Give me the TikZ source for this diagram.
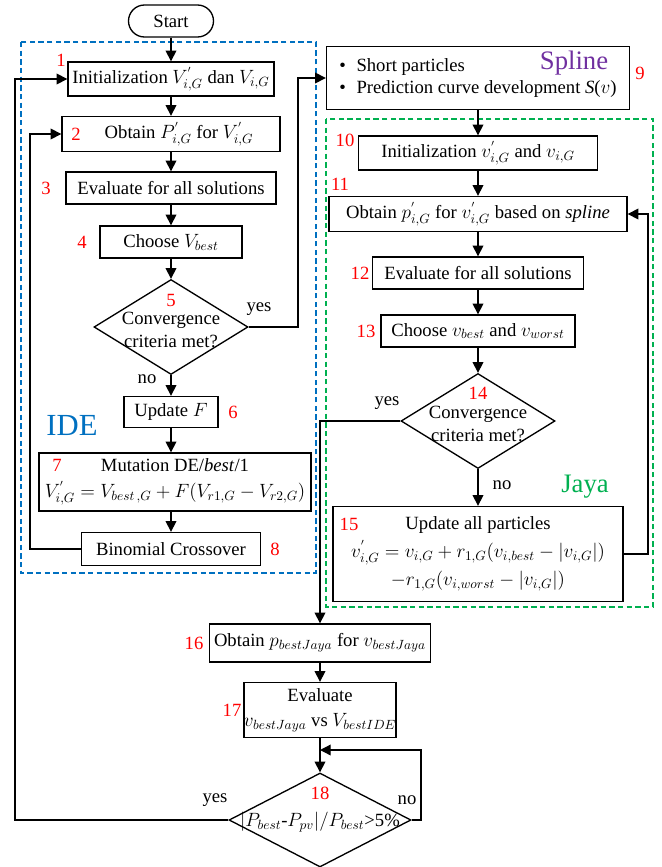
\documentclass[tikz,border=0pt]{standalone}
\usepackage{fontspec}
\setmainfont{Liberation Serif}
\usetikzlibrary{arrows.meta,shapes.geometric}
\definecolor{ideblue}{RGB}{0,112,192}
\definecolor{jayagreen}{RGB}{0,176,80}
\definecolor{splinepurple}{RGB}{112,48,160}
\definecolor{numred}{RGB}{255,0,0}
\begin{document}
\begin{tikzpicture}[x=0.75pt,y=-0.75pt,
  every node/.style={font=\fontsize{14}{16}\selectfont},
  box/.style={draw,line width=1pt,inner sep=0pt,align=center},
  wh/.style 2 args={minimum width=#1*0.75pt,minimum height=#2*0.75pt},
  dec/.style={draw,diamond,line width=1pt,inner sep=0pt},
  num/.style={text=numred,inner sep=0pt},
  conn/.style={line width=1pt,-{Triangle[length=8pt,width=8pt]}},
  lbl/.style={inner sep=0pt},
  dashbox/.style={line width=0.9pt,dash pattern=on 4pt off 2.5pt},
  ]
\useasboundingbox (0,0) rectangle (661,867);
% frames
\draw[dashbox,ideblue] (21,42) rectangle (316,573);
\draw[dashbox,jayagreen] (326,119) rectangle (653,607);
% IDE column
\node[box,wh={85}{32},rounded corners=12pt] (start) at (171,21) {Start};
\node[box,wh={206}{34}] (b1) at (171,79) {Initialization $V^{'}_{i,G}$ dan $V_{i,G}$};
\node[box,wh={218}{35}] (b2) at (171,134) {\hspace*{12pt}Obtain $P^{'}_{i,G}$ for $V^{'}_{i,G}$};
\node[box,wh={210}{32}] (b3) at (171,188) {Evaluate for all solutions};
\node[box,wh={142}{32}] (b4) at (171,242) {Choose $V_{best}$};
\node[dec,wh={154}{95}] (d5) at (171,327) {};
\node[lbl,align=center,font=\fontsize{14}{17}\selectfont] (t5) at (171,330) {Convergence\\criteria met?};
\node[box,wh={94}{31}] (b6) at (171,412) {Update $F$};
\node[box,wh={272}{58},font=\fontsize{14}{19.5}\selectfont] (b7) at (175,482)
  {Mutation DE/\textit{best}/1\\ $V^{'}_{i,G}=V_{best\,,G}+F\bigl(V_{r1,G}-V_{r2,G}\bigr)$};
\node[box,wh={179}{33}] (b8) at (171,549) {Binomial Crossover};
% Spline / Jaya column
\node[box,wh={303}{63},align=left,font=\fontsize{14}{16.5}\selectfont] (b9) at (478,78)
  {\textbullet\hspace{8pt}Short particles\\ \textbullet\hspace{8pt}Prediction curve development \textit{S}($v$)};
\node[box,wh={239}{34}] (b10) at (478,153) {Initialization $v^{'}_{i,G}$ and $v_{i,G}$};
\node[box,wh={298}{35}] (b11) at (478,214) {Obtain $p^{'}_{i,G}$ for $v^{'}_{i,G}$ based on \textit{spline}};
\node[box,wh={211}{32}] (b12) at (478,273) {Evaluate for all solutions};
\node[box,wh={194}{32}] (b13) at (478,331) {Choose $v_{best}$ and $v_{worst}$};
\node[dec,wh={154}{95}] (d14) at (478,421) {};
\node[lbl,align=center,font=\fontsize{14}{17}\selectfont] (t14) at (478,424) {Convergence\\criteria met?};
\node[box,wh={290}{95},font=\fontsize{14}{21}\selectfont] (b15) at (478,554)
  {Update all particles\\ $v^{'}_{i,G}=v_{i,G}+r_{1,G}\bigl(v_{i,best}-\bigl|v_{i,G}\bigr|\bigr)$\\ $-r_{1,G}\bigl(v_{i,worst}-\bigl|v_{i,G}\bigr|\bigr)$};
% final part
\node[box,wh={221}{38}] (b16) at (320,643) {Obtain $p_{bestJaya}$ for $v_{bestJaya}$};
\node[box,wh={144}{55},font=\fontsize{14}{19}\selectfont] (b17) at (320,710) {Evaluate\\ $v_{bestJaya}$ vs $V_{bestIDE}$};
\node[dec,wh={182}{94}] (d18) at (320,820) {};
\node[lbl] (t18) at (320,822) {$|P_{best}$-$P_{pv}|/P_{best}$>5\%};
% titles
\node[lbl,text=ideblue,font=\fontsize{23}{26}\selectfont] (ide) at (72,425) {IDE};
\node[lbl,text=splinepurple,font=\fontsize{20}{23}\selectfont] (spl) at (574,63) {Spline};
\node[lbl,text=jayagreen,font=\fontsize{20}{23}\selectfont] (jaya) at (585,487) {Jaya};
% step numbers
\node[num] (n1) at (61,60) {1};
\node[num] (n2) at (76,134) {2};
\node[num] (n3) at (46,188) {3};
\node[num] (n4) at (82,242) {4};
\node[num] (n5) at (171,300) {5};
\node[num] (n6) at (233,412) {6};
\node[num] (n7) at (57,465) {7};
\node[num] (n8) at (275,549) {8};
\node[num] (n9) at (640,73) {9};
\node[num] (n10) at (345,140) {10};
\node[num] (n11) at (340,184) {11};
\node[num] (n12) at (360,273) {12};
\node[num] (n13) at (366,331) {13};
\node[num] (n14) at (478,393) {14};
\node[num] (n15) at (349,524) {15};
\node[num] (n16) at (194,643) {16};
\node[num] (n17) at (232,710) {17};
\node[num] (n18) at (320,793) {18};
% yes / no labels
\node[lbl] (y5) at (259,309) {yes};
\node[lbl] (no5) at (147,379) {no};
\node[lbl] (y14) at (387,403) {yes};
\node[lbl] (no14) at (502,485) {no};
\node[lbl] (y18) at (215,800) {yes};
\node[lbl] (no18) at (407,800) {no};
% helper coordinates
\coordinate (c5) at (298,78);
\coordinate (c2) at (30,134);
\coordinate (c11) at (648,214);
\coordinate (c1) at (15,79);
\coordinate (m18) at (320,750);
\coordinate (r18) at (421,750);
% connectors
\draw[conn] (start) -- (b1);
\draw[conn] (b1) -- (b2);
\draw[conn] (b2) -- (b3);
\draw[conn] (b3) -- (b4);
\draw[conn] (b4) -- (d5);
\draw[conn] (d5.east) -| (c5) -- (b9.west);
\draw[conn] (d5) -- (b6);
\draw[conn] (b6) -- (b6 |- b7.north);
\draw[conn] (b7.south -| b8) -- (b8);
\draw[conn] (b8.west) -| (c2) -- (b2.west);
\draw[conn] (b9) -- (b10);
\draw[conn] (b10) -- (b11);
\draw[conn] (b11) -- (b12);
\draw[conn] (b12) -- (b13);
\draw[conn] (b13) -- (d14);
\draw[conn] (d14) -- (b15);
\draw[conn] (b15.east) -| (c11) -- (b11.east);
\draw[conn] (d14.west) -| (b16.north);
\draw[conn] (b16) -- (b17);
\draw[conn] (b17) -- (d18);
\draw[conn] (d18.east) -| (r18) -- (m18);
\draw[conn] (d18.west) -| (c1) -- (b1.west);
\end{tikzpicture}
\end{document}
